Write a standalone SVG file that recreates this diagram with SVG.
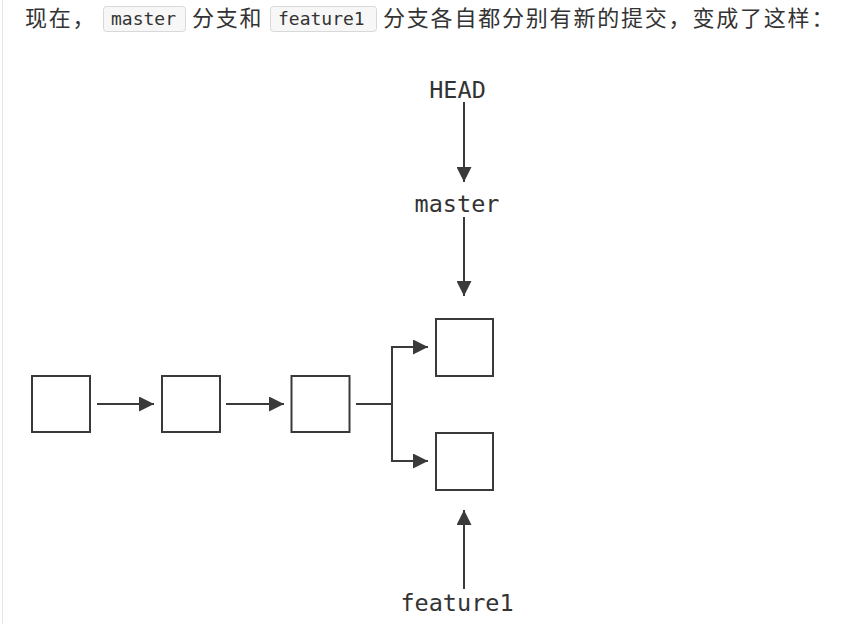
<svg xmlns="http://www.w3.org/2000/svg" width="857" height="624" viewBox="0 0 857 624">
<defs>
<style>
.cjk{font-family:"Noto Sans CJK SC","Noto Sans",sans-serif;font-size:22px;letter-spacing:1.8px;fill:#333}
.code{font-family:"DejaVu Sans Mono","Liberation Mono",monospace;font-size:18px;fill:#333}
.codebox{fill:#f7f7f7;stroke:#d8d8d8;stroke-width:1}
.lbl{font-family:"DejaVu Sans Mono","Liberation Mono",monospace;font-size:23.5px;fill:#333;text-anchor:middle}
.box{fill:#fff;stroke:#3a3a3a;stroke-width:2}
.edge{fill:none;stroke:#3a3a3a;stroke-width:2}
</style>
<marker id="ah" markerUnits="userSpaceOnUse" markerWidth="15" markerHeight="15" refX="15" refY="7.5" orient="auto" viewBox="0 0 15 15">
<path d="M0,0 L15,7.5 L0,15 z" fill="#3a3a3a"/>
</marker>
</defs>
<rect x="0" y="0" width="857" height="624" fill="#fff"/>
<rect x="2" y="0" width="1" height="624" fill="#e4e4e4"/>
<g id="header">
<text class="cjk" x="25" y="26">现在，</text>
<rect class="codebox" x="103.5" y="6.5" width="82" height="25" rx="3"/>
<text class="code" x="111" y="25">master</text>
<text class="cjk" x="192" y="26">分支和</text>
<rect class="codebox" x="270.5" y="6.5" width="106" height="25" rx="3"/>
<text class="code" x="278" y="25">feature1</text>
<text class="cjk" x="383" y="26">分支各自都分别有新的提交，变成了这样：</text>
</g>
<g id="connectors">
<line class="edge" x1="464" y1="102" x2="464" y2="182" marker-end="url(#ah)"/>
<line class="edge" x1="464" y1="217" x2="464" y2="296" marker-end="url(#ah)"/>
<line class="edge" x1="464" y1="589" x2="464" y2="510" marker-end="url(#ah)"/>
<line class="edge" x1="97" y1="404" x2="154" y2="404" marker-end="url(#ah)"/>
<line class="edge" x1="226" y1="404" x2="284" y2="404" marker-end="url(#ah)"/>
<path class="edge" d="M356,404 H392 V347 H428" marker-end="url(#ah)"/>
<path class="edge" d="M392,404 V461 H428" marker-end="url(#ah)"/>
</g>
<g id="HEAD"><text class="lbl" x="457.5" y="98">HEAD</text></g>
<g id="master"><text class="lbl" x="457" y="212">master</text></g>
<g id="feature1"><text class="lbl" x="457" y="611">feature1</text></g>
<g id="c1"><rect class="box" x="32" y="376" width="58" height="56"/></g>
<g id="c2"><rect class="box" x="162" y="376" width="58" height="56"/></g>
<g id="c3"><rect class="box" x="291.5" y="376" width="58" height="56"/></g>
<g id="c4"><rect class="box" x="436" y="319" width="57" height="57"/></g>
<g id="c5"><rect class="box" x="436" y="433" width="57" height="57"/></g>
</svg>
